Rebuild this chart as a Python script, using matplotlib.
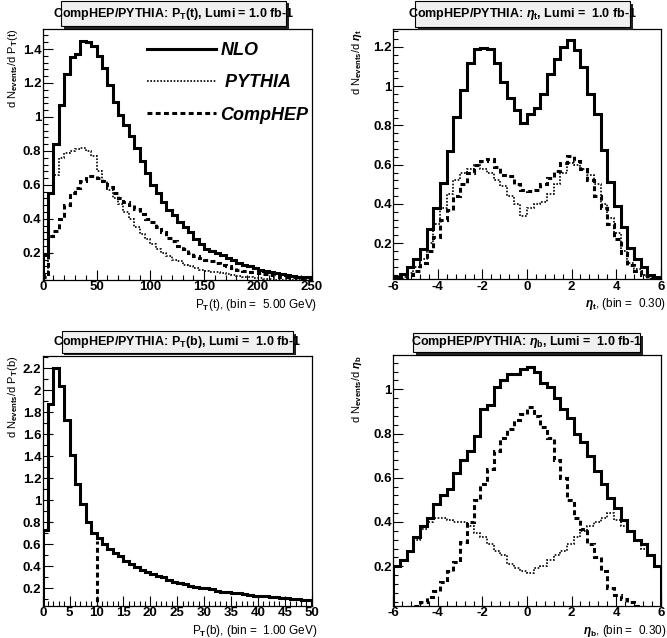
import numpy as np
import matplotlib
matplotlib.use("Agg")
from matplotlib import pyplot as plt
from matplotlib.patches import Rectangle
from matplotlib.ticker import MultipleLocator, AutoMinorLocator, FormatStrFormatter

plt.rcParams["font.family"] = ["Liberation Sans", "DejaVu Sans"]
plt.rcParams["font.weight"] = "bold"
plt.rcParams["mathtext.fontset"] = "custom"
plt.rcParams["mathtext.rm"] = "Liberation Sans:bold"
plt.rcParams["mathtext.it"] = "Liberation Sans:bold:italic"
plt.rcParams["mathtext.bf"] = "Liberation Sans:bold"
plt.rcParams["axes.unicode_minus"] = False
NARROW = ["Liberation Sans Narrow", "Liberation Sans", "DejaVu Sans"]

# ---- data ----
# top left: P_T(t), 5 GeV bins from 0 to 250
pt_t_edges = np.arange(0, 255, 5)
pt_t_nlo = [0.19, 0.55, 0.84, 1.07, 1.25, 1.35, 1.37, 1.45, 1.44, 1.42,
            1.36, 1.29, 1.19, 1.09, 1.01, 0.95, 0.89, 0.82, 0.74, 0.67,
            0.60, 0.55, 0.50, 0.45, 0.42, 0.38, 0.35, 0.32, 0.28, 0.25,
            0.22, 0.21, 0.20, 0.19, 0.17, 0.16, 0.14, 0.13, 0.12, 0.11,
            0.10, 0.095, 0.09, 0.08, 0.075, 0.07, 0.065, 0.06, 0.06, 0.055]
pt_t_pythia = [0.07, 0.55, 0.66, 0.76, 0.79, 0.80, 0.81, 0.82, 0.80, 0.77,
               0.68, 0.62, 0.57, 0.52, 0.49, 0.44, 0.40, 0.35, 0.31, 0.28,
               0.25, 0.22, 0.20, 0.18, 0.16, 0.15, 0.13, 0.12, 0.11, 0.10,
               0.095, 0.09, 0.085, 0.08, 0.075, 0.07, 0.065, 0.06, 0.055, 0.05,
               0.05, 0.045, 0.045, 0.04, 0.04, 0.04, 0.04, 0.04, 0.04, 0.04]
pt_t_comphep = [0.06, 0.30, 0.33, 0.40, 0.48, 0.55, 0.58, 0.62, 0.65, 0.65,
                0.64, 0.62, 0.59, 0.55, 0.52, 0.50, 0.48, 0.46, 0.43, 0.40,
                0.38, 0.35, 0.32, 0.29, 0.27, 0.24, 0.22, 0.20, 0.18, 0.17,
                0.16, 0.15, 0.14, 0.13, 0.12, 0.11, 0.10, 0.095, 0.09, 0.085,
                0.08, 0.075, 0.07, 0.065, 0.06, 0.06, 0.055, 0.05, 0.05, 0.05]

# top right: eta(t), 0.3 bins from -6 to 6
eta_edges = np.linspace(-6, 6, 41)
eta_t_nlo = [0.03, 0.045, 0.08, 0.12, 0.17, 0.27, 0.38, 0.505, 0.67, 0.845,
             0.98, 1.12, 1.19, 1.195, 1.19, 1.12, 1.02, 0.94, 0.88, 0.81,
             0.86, 0.89, 0.96, 1.06, 1.14, 1.20, 1.235, 1.185, 1.10, 0.96,
             0.86, 0.675, 0.51, 0.39, 0.28, 0.175, 0.12, 0.08, 0.04, 0.026]
eta_t_pythia = [0.02, 0.03, 0.05, 0.08, 0.12, 0.20, 0.30, 0.38, 0.45, 0.52,
                0.56, 0.58, 0.60, 0.58, 0.56, 0.52, 0.49, 0.44, 0.40, 0.34,
                0.38, 0.40, 0.41, 0.45, 0.50, 0.56, 0.61, 0.60, 0.58, 0.55,
                0.50, 0.40, 0.33, 0.25, 0.16, 0.10, 0.07, 0.04, 0.03, 0.02]
eta_t_comphep = [0.02, 0.02, 0.04, 0.06, 0.10, 0.16, 0.23, 0.32, 0.37, 0.44,
                 0.50, 0.56, 0.60, 0.62, 0.63, 0.59, 0.55, 0.54, 0.50, 0.47,
                 0.465, 0.47, 0.50, 0.53, 0.57, 0.61, 0.645, 0.62, 0.58, 0.52,
                 0.44, 0.38, 0.30, 0.22, 0.15, 0.09, 0.06, 0.04, 0.02, 0.02]

# bottom left: P_T(b), 1 GeV bins from 0 to 50
pt_b_edges = np.arange(0, 51, 1)
pt_b_nlo = [0.73, 1.87, 2.20, 2.04, 1.73, 1.41, 1.15, 0.97, 0.80, 0.70,
            0.66, 0.60, 0.56, 0.52, 0.49, 0.45, 0.42, 0.39, 0.37, 0.35,
            0.33, 0.31, 0.30, 0.28, 0.26, 0.25, 0.24, 0.22, 0.21, 0.20,
            0.20, 0.19, 0.18, 0.17, 0.165, 0.16, 0.16, 0.15, 0.14, 0.135,
            0.13, 0.13, 0.125, 0.12, 0.115, 0.11, 0.105, 0.10, 0.095, 0.09]
pt_b_cut = 10
pt_b_cut_height = 0.63

# bottom right: eta(b), 0.3 bins from -6 to 6
eta_b_nlo = [0.20, 0.23, 0.27, 0.33, 0.38, 0.42, 0.48, 0.52, 0.55, 0.62,
             0.68, 0.72, 0.79, 0.91, 0.93, 1.01, 1.04, 1.07, 1.07, 1.09,
             1.10, 1.08, 1.03, 1.01, 0.96, 0.91, 0.87, 0.80, 0.76, 0.70,
             0.63, 0.57, 0.51, 0.465, 0.41, 0.36, 0.32, 0.30, 0.25, 0.20]
eta_b_pythia = [0.20, 0.23, 0.27, 0.32, 0.37, 0.40, 0.42, 0.42, 0.41, 0.40,
                0.40, 0.38, 0.35, 0.33, 0.30, 0.27, 0.25, 0.21, 0.19, 0.18,
                0.17, 0.19, 0.20, 0.23, 0.25, 0.27, 0.30, 0.33, 0.36, 0.38,
                0.40, 0.42, 0.44, 0.41, 0.38, 0.36, 0.32, 0.28, 0.25, 0.20]
eta_b_comphep = [0.01, 0.01, 0.015, 0.02, 0.04, 0.06, 0.09, 0.13, 0.18, 0.22,
                 0.31, 0.40, 0.50, 0.57, 0.64, 0.72, 0.78, 0.82, 0.86, 0.89,
                 0.92, 0.88, 0.83, 0.78, 0.68, 0.60, 0.50, 0.42, 0.37, 0.30,
                 0.24, 0.18, 0.10, 0.07, 0.05, 0.04, 0.02, 0.015, 0.01, 0.01]

nlo_style = dict(color="black", lw=2.2, linestyle="-")
pythia_style = dict(color="black", lw=1.2, linestyle=(0, (1, 1)))
comphep_style = dict(color="black", lw=2.2, linestyle=(0, (1.6, 1.1)))

W, H = 667, 638
fig = plt.figure(figsize=(W / 100, H / 100), dpi=100)


def make_axes(x0, y0, x1, y1):
    return fig.add_axes([x0 / W, 1 - y1 / H, (x1 - x0) / W, (y1 - y0) / H])


def style_axes(ax, xlim, ylim, xmajor, xminor, ymajor, ysub, xlabel, ylabel):
    ax.set_xlim(*xlim)
    ax.set_ylim(*ylim)
    ax.xaxis.set_major_locator(MultipleLocator(xmajor))
    ax.xaxis.set_minor_locator(MultipleLocator(xminor))
    ax.yaxis.set_major_locator(MultipleLocator(ymajor))
    ax.yaxis.set_minor_locator(AutoMinorLocator(ysub))
    ax.xaxis.set_major_formatter(FormatStrFormatter("%g"))
    ax.yaxis.set_major_formatter(FormatStrFormatter("%g"))
    ax.tick_params(which="both", direction="in", top=False, right=False, width=0.8)
    ax.tick_params(which="major", length=7, labelsize=9.5, pad=1)
    ax.tick_params(which="minor", length=3.5)
    for s in ax.spines.values():
        s.set_linewidth(0.9)
    ax.set_xlabel(xlabel, loc="right", fontsize=8.5, family=NARROW)
    ax.xaxis.set_label_coords(1.02, -0.068)
    ax.set_ylabel(ylabel, loc="top", fontsize=8, family=NARROW)


def title_box(x0, y0, x1, y1, text):
    shadow = Rectangle(((x0 + 2.5) / W, 1 - (y1 + 2.5) / H), (x1 - x0) / W, (y1 - y0) / H,
                       transform=fig.transFigure, fc="#222222", ec="none")
    box = Rectangle((x0 / W, 1 - y1 / H), (x1 - x0) / W, (y1 - y0) / H,
                    transform=fig.transFigure, fc="#f0f0f0", ec="black", lw=0.8)
    fig.patches.extend([shadow, box])
    fig.text((x0 + x1) / 2 / W, 1 - (y0 + y1) / 2 / H, text, ha="center", va="center",
             fontsize=9, family=NARROW)


# top left
ax1 = make_axes(42.7, 29.3, 311.7, 280)
ax1.stairs(pt_t_nlo, pt_t_edges, label="NLO", **nlo_style)
ax1.stairs(pt_t_pythia, pt_t_edges, label=" PYTHIA", **pythia_style)
ax1.stairs(pt_t_comphep, pt_t_edges, label="CompHEP", **comphep_style)
style_axes(ax1, (0, 250), (0.04, 1.516), 50, 10, 0.2, 5,
           r"P$_{\rm T}$(t), (bin =  5.00 GeV)", r"d N$_{\rm events}$/d P$_{\rm T}$(t)")
ax1.yaxis.set_label_coords(-0.085, 1.0)
ax1.legend(loc="upper left", bbox_to_anchor=(0.388, 0.95), frameon=False,
           borderpad=0, borderaxespad=0, handlelength=3.8, handletextpad=0.25,
           labelspacing=0.85, prop=dict(family=["Liberation Sans", "DejaVu Sans"],
                                        weight="bold", style="italic", size=13))

# top right
ax2 = make_axes(393.3, 29.3, 660.7, 279.3)
ax2.stairs(eta_t_nlo, eta_edges, **nlo_style)
ax2.stairs(eta_t_pythia, eta_edges, **pythia_style)
ax2.stairs(eta_t_comphep, eta_edges, **comphep_style)
style_axes(ax2, (-6, 6), (0.016, 1.29), 2, 0.4, 0.2, 5,
           r"$\eta_{\rm t}$, (bin =  0.30)", r"d N$_{\rm events}$/d $\eta_{\rm t}$")
ax2.yaxis.set_label_coords(-0.11, 1.0)

# bottom left
ax3 = make_axes(42.7, 356, 311.7, 606)
ax3.stairs(pt_b_nlo, pt_b_edges, **nlo_style)
ax3.vlines(pt_b_cut, 0, pt_b_cut_height, colors="black", lw=2.2, linestyles=(0, (1.6, 1.1)))
style_axes(ax3, (0, 50), (0.04, 2.31), 5, 1, 0.2, 2,
           r"P$_{\rm T}$(b), (bin =  1.00 GeV)", r"d N$_{\rm events}$/d P$_{\rm T}$(b)")
ax3.yaxis.set_label_coords(-0.085, 1.0)

# bottom right
ax4 = make_axes(393.3, 355, 660.7, 606)
ax4.stairs(eta_b_nlo, eta_edges, **nlo_style)
ax4.stairs(eta_b_pythia, eta_edges, **pythia_style)
ax4.stairs(eta_b_comphep, eta_edges, **comphep_style)
style_axes(ax4, (-6, 6), (0.02, 1.155), 2, 0.4, 0.2, 5,
           r"$\eta_{\rm b}$, (bin =  0.30)", r"d N$_{\rm events}$/d $\eta_{\rm b}$")
ax4.yaxis.set_label_coords(-0.11, 1.0)

title_box(61, 1, 286, 26, r"CompHEP/PYTHIA: P$_{\rm T}$(t), Lumi = 1.0 fb-1")
title_box(415, 1, 630, 27, r"CompHEP/PYTHIA: $\eta_{\rm t}$, Lumi =  1.0 fb-1")
title_box(61.7, 331, 293, 352.5, r"CompHEP/PYTHIA: P$_{\rm T}$(b), Lumi =  1.0 fb-1")
title_box(413, 333, 640, 352, r"CompHEP/PYTHIA: $\eta_{\rm b}$, Lumi =  1.0 fb-1")

fig.savefig("out.png", dpi=100, facecolor="white")
